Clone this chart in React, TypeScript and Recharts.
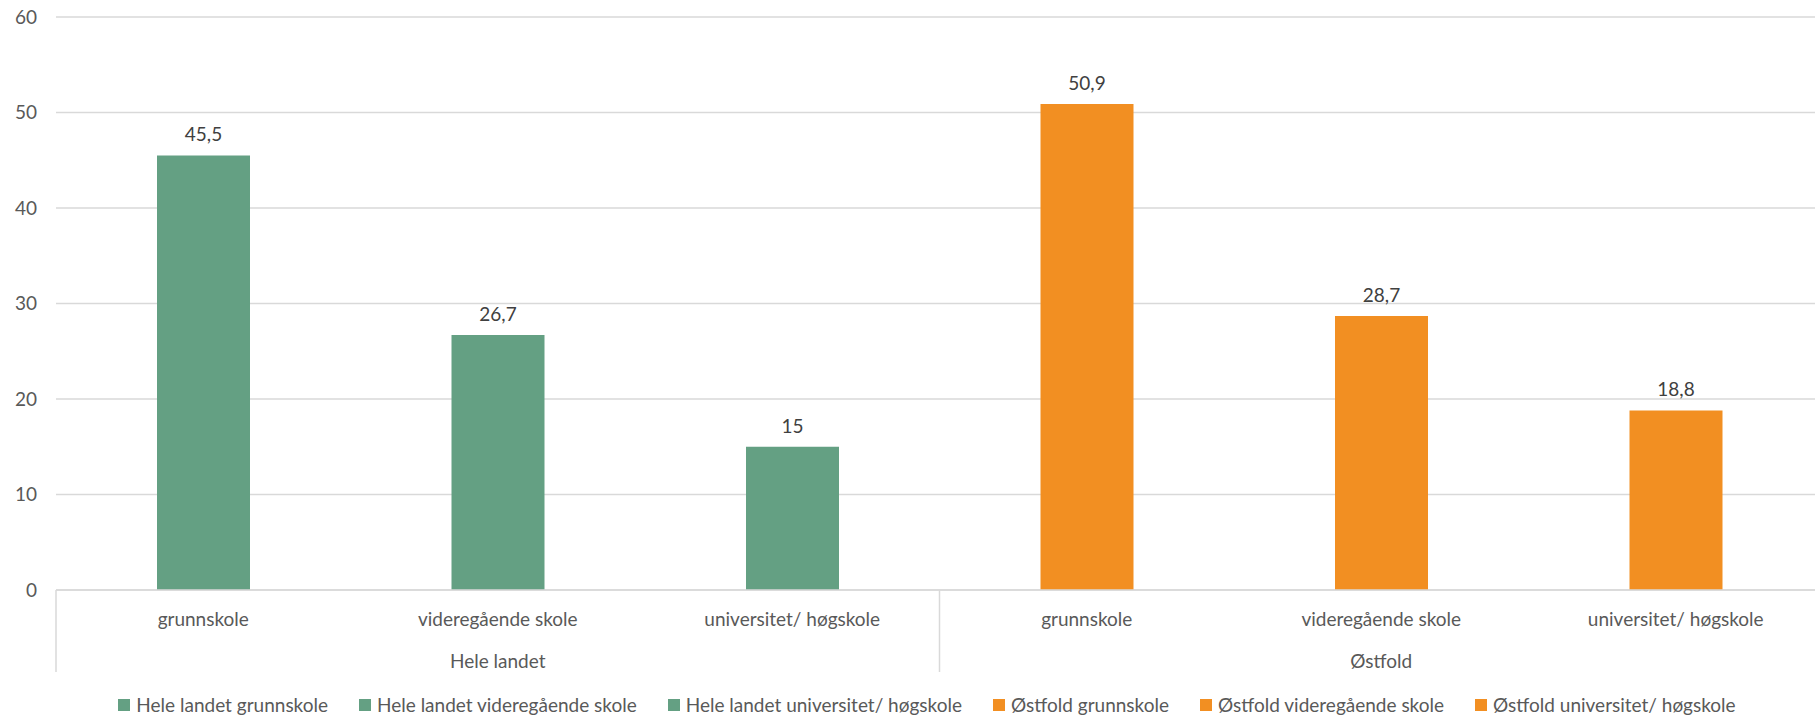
import React from 'react';
import { BarChart, Bar, XAxis, YAxis, CartesianGrid, Cell, LabelList, Legend } from 'recharts';

const categories = [
  'grunnskole',
  'videregående skole',
  'universitet/ høgskole',
  'grunnskole',
  'videregående skole',
  'universitet/ høgskole',
];
const groups = ['Hele landet', 'Hele landet', 'Hele landet', 'Østfold', 'Østfold', 'Østfold'];
const values = [45.5, 26.7, 15, 50.9, 28.7, 18.8];
const seriesNames = categories.map((c, i) => `${groups[i]} ${c}`);
const groupColors: Record<string, string> = { 'Hele landet': '#64A083', 'Østfold': '#F28F22' };
const yTicks = [0, 10, 20, 30, 40, 50, 60];

const data = categories.map((c, i) => ({
  id: seriesNames[i],
  category: c,
  group: groups[i],
  value: values[i],
}));

const FONT = 'Lato, "Open Sans", sans-serif';
const GRID = '#D9D9D9';
const TICK_COLOR = '#595959';
const LABEL_COLOR = '#404040';

const XTick = (props: any) => {
  const { x, y, payload } = props;
  const i: number = payload.index;
  const half: number = payload.offset || 0;
  const first = i === 0 || groups[i] !== groups[i - 1];
  const groupIdx = groups.map((g, k) => (g === groups[i] ? k : -1)).filter((k) => k >= 0);
  const isMiddle = groupIdx[Math.floor(groupIdx.length / 2)] === i;
  return (
    <g>
      <text
        x={x}
        y={y + 28}
        textAnchor="middle"
        dominantBaseline="central"
        fill={TICK_COLOR}
        fontSize={19}
        fontFamily={FONT}
      >
        {categories[i]}
      </text>
      {isMiddle && (
        <text
          x={x}
          y={y + 70}
          textAnchor="middle"
          dominantBaseline="central"
          fill={TICK_COLOR}
          fontSize={19}
          fontFamily={FONT}
        >
          {groups[i]}
        </text>
      )}
      {first && <line x1={x - half} x2={x - half} y1={y} y2={y + 82} stroke={GRID} strokeWidth={1.5} />}
    </g>
  );
};

const renderLegend = () => (
  <div
    style={{
      height: 44,
      boxSizing: 'border-box',
      paddingTop: 21,
      paddingLeft: 31,
      display: 'flex',
      justifyContent: 'center',
      alignItems: 'center',
      fontFamily: FONT,
      fontSize: 19,
      lineHeight: '20px',
      color: TICK_COLOR,
      whiteSpace: 'nowrap',
    }}
  >
    {seriesNames.map((name, i) => (
      <div key={name} style={{ display: 'flex', alignItems: 'center', marginLeft: i === 0 ? 0 : 31 }}>
        <span style={{ width: 12, height: 12, background: groupColors[groups[i]], marginRight: 6, display: 'inline-block' }} />
        <span>{name}</span>
      </div>
    ))}
  </div>
);

export default function App() {
  return (
    <div style={{ position: 'absolute', left: 0, top: 0, width: 1815, height: 716, overflow: 'hidden', background: '#fff' }}>
      <BarChart width={1835} height={716} data={data} margin={{ top: 17, right: 12, bottom: 0, left: 0 }}>
        <CartesianGrid vertical={false} stroke={GRID} strokeWidth={1.5} />
        <XAxis
          dataKey="id"
          height={82}
          axisLine={{ stroke: GRID, strokeWidth: 1.5 }}
          tickLine={false}
          tickSize={0}
          tickMargin={0}
          interval={0}
          tick={<XTick />}
        />
        <YAxis
          width={56}
          domain={[0, 60]}
          ticks={yTicks}
          axisLine={false}
          tickLine={false}
          tickSize={0}
          tickMargin={19}
          tick={{ fill: TICK_COLOR, fontSize: 19, fontFamily: FONT }}
        />
        <Legend verticalAlign="bottom" content={renderLegend} />
        <Bar dataKey="value" barSize={93} isAnimationActive={false}>
          {data.map((d) => (
            <Cell key={d.id} fill={groupColors[d.group]} />
          ))}
          <LabelList
            dataKey="value"
            position="top"
            offset={14}
            fill={LABEL_COLOR}
            fontSize={19}
            fontFamily={FONT}
            formatter={(v: any) => String(v).replace('.', ',')}
          />
        </Bar>
      </BarChart>
    </div>
  );
}
